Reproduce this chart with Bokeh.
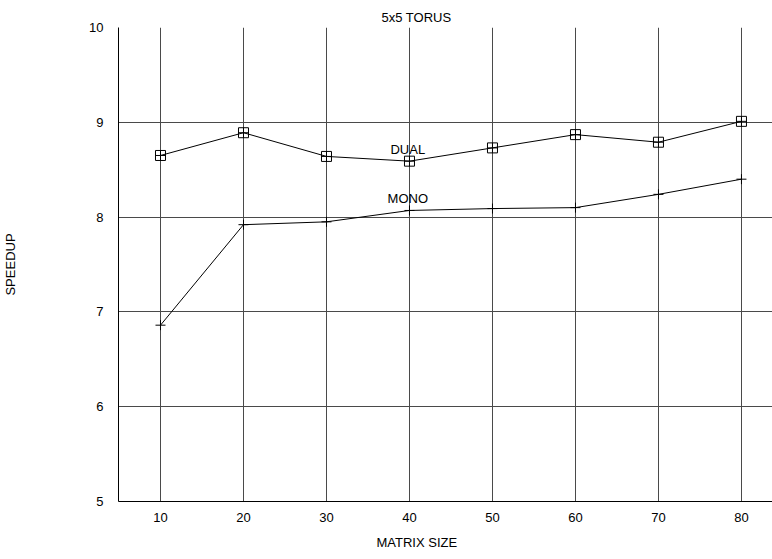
from bokeh.plotting import figure
from bokeh.models import Label, FixedTicker, Range1d, Title
from bokeh.embed import file_html
from bokeh.resources import INLINE

matrix_size = [10, 20, 30, 40, 50, 60, 70, 80]
dual = [8.65, 8.89, 8.64, 8.59, 8.73, 8.87, 8.79, 9.01]
mono = [6.86, 7.92, 7.95, 8.07, 8.09, 8.10, 8.24, 8.40]
x_ticks = [10, 20, 30, 40, 50, 60, 70, 80]
y_ticks = [5, 6, 7, 8, 9, 10]

FONT = "Liberation Sans"
FS = "13px"

p = figure(width=772, height=559, output_backend="svg", toolbar_location=None,
           x_range=Range1d(4.94, 83.74), y_range=Range1d(5, 10),
           min_border_left=118, min_border_right=0, min_border_top=27, min_border_bottom=58)
p.outline_line_color = None
p.background_fill_color = "white"

p.xaxis.ticker = FixedTicker(ticks=x_ticks)
p.yaxis.ticker = FixedTicker(ticks=y_ticks)
for ax in (p.xaxis, p.yaxis):
    ax.major_tick_line_color = None
    ax.minor_tick_line_color = None
    ax.axis_line_color = "black"
    ax.major_label_text_font = FONT
    ax.major_label_text_font_size = FS
    ax.major_label_text_color = "black"
p.yaxis.major_label_standoff = 9
p.xaxis.major_label_standoff = 5

p.yaxis.axis_label = "SPEEDUP"
p.yaxis.axis_label_text_font = FONT
p.yaxis.axis_label_text_font_size = FS
p.yaxis.axis_label_text_font_style = "normal"
p.yaxis.axis_label_text_color = "black"
p.yaxis.axis_label_standoff = 68

p.grid.grid_line_color = "#4a4a4a"
p.grid.grid_line_width = 1

p.line(matrix_size, dual, line_color="black", line_width=1)
p.scatter(matrix_size, dual, marker="square_cross", size=10, fill_color=None,
          line_color="black", line_width=1)
p.line(matrix_size, mono, line_color="black", line_width=1)
p.scatter(matrix_size, mono, marker="cross", size=10, line_color="black", line_width=1)

def lab(x, y, t):
    p.add_layout(Label(x=x, y=y, text=t, text_font=FONT, text_font_size=FS,
                       text_align="center", text_baseline="middle", text_color="black"))

lab(39.8, 8.71, "DUAL")
lab(39.8, 8.20, "MONO")

p.add_layout(Title(text="5x5 TORUS", align="left", offset=263, text_font=FONT,
                   text_font_size=FS, text_font_style="normal", text_color="black",
                   standoff=6), "above")
p.add_layout(Title(text="MATRIX SIZE", align="left", offset=258, text_font=FONT,
                   text_font_size=FS, text_font_style="normal", text_color="black",
                   standoff=16), "below")

open("out.html", "w").write(file_html(p, INLINE))
